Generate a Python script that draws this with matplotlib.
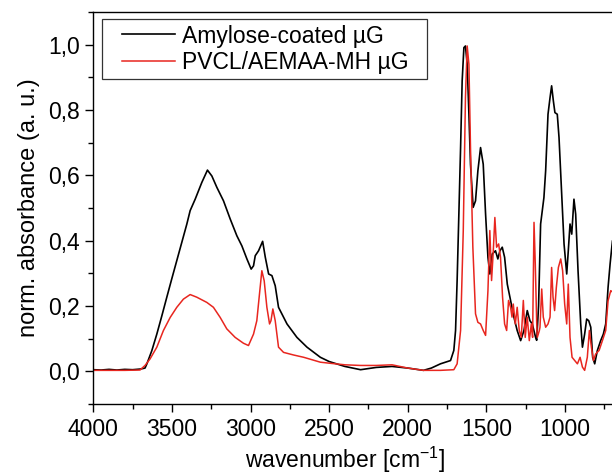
import matplotlib
matplotlib.use("Agg")
import matplotlib.pyplot as plt
from matplotlib.ticker import MultipleLocator, FixedLocator, FixedFormatter
from matplotlib.patches import Rectangle

plt.rcParams['font.family'] = ['Liberation Sans', 'DejaVu Sans']

# ---- data ----
amylose_wn = [4000, 3950, 3900, 3850, 3800, 3750, 3700, 3671, 3660, 3628, 3596, 3564, 3533, 3501,
              3469, 3437, 3405, 3384, 3352, 3310, 3274, 3246, 3214, 3172, 3129, 3087, 3055, 3023,
              2996, 2981, 2970, 2949, 2923, 2906, 2885, 2864, 2843, 2822, 2768, 2705, 2641, 2556,
              2500, 2400, 2300, 2200, 2100, 2000, 1900, 1850, 1792, 1728, 1707, 1696, 1686, 1675,
              1664, 1654, 1643, 1633, 1622, 1611, 1601, 1584, 1569, 1554, 1537, 1520, 1505, 1490,
              1478, 1463, 1442, 1427, 1414, 1399, 1384, 1367, 1346, 1325, 1304, 1282, 1261, 1240,
              1223, 1208, 1187, 1180, 1168, 1155, 1134, 1123, 1108, 1095, 1085, 1074, 1064, 1049,
              1038, 1023, 1006, 989, 979, 968, 957, 943, 932, 917, 900, 889, 875, 862, 849, 836,
              824, 811, 794, 773, 756, 741, 726, 713, 698, 685]
amylose_abs = [0.005, 0.004, 0.006, 0.004, 0.006, 0.005, 0.007, 0.010, 0.022, 0.063, 0.114, 0.170, 0.226, 0.283,
               0.339, 0.395, 0.451, 0.492, 0.527, 0.578, 0.616, 0.598, 0.563, 0.522, 0.466, 0.415, 0.384, 0.344,
               0.313, 0.323, 0.354, 0.369, 0.398, 0.349, 0.298, 0.293, 0.262, 0.196, 0.145, 0.104, 0.074, 0.043,
               0.030, 0.015, 0.005, 0.012, 0.015, 0.010, 0.003, 0.010, 0.023, 0.033, 0.064, 0.125, 0.278, 0.481,
               0.685, 0.889, 0.991, 0.996, 0.940, 0.787, 0.634, 0.502, 0.522, 0.614, 0.685, 0.634, 0.481, 0.349,
               0.298, 0.359, 0.369, 0.344, 0.369, 0.380, 0.349, 0.267, 0.217, 0.166, 0.125, 0.094, 0.125, 0.186,
               0.155, 0.145, 0.104, 0.095, 0.200, 0.451, 0.532, 0.614, 0.787, 0.838, 0.874, 0.828, 0.792, 0.787,
               0.716, 0.563, 0.390, 0.298, 0.369, 0.451, 0.420, 0.527, 0.481, 0.308, 0.145, 0.074, 0.114, 0.160, 0.155, 0.135,
               0.043, 0.023, 0.064, 0.094, 0.114, 0.145, 0.257, 0.329, 0.400, 0.400]

pvcl_wn = [4000, 3900, 3800, 3703, 3671, 3639, 3596, 3554, 3511, 3469, 3427, 3384, 3342, 3278, 3236,
           3193, 3151, 3098, 3045, 3013, 2981, 2960, 2943, 2928, 2913, 2896, 2879, 2870, 2858, 2843,
           2822, 2790, 2726, 2662, 2556, 2500, 2400, 2300, 2200, 2100, 2000, 1900, 1792, 1707, 1686,
           1664, 1647, 1633, 1622, 1611, 1601, 1586, 1569, 1554, 1537, 1520, 1505, 1490, 1478, 1467,
           1456, 1446, 1435, 1422, 1410, 1397, 1384, 1371, 1359, 1346, 1337, 1329, 1316, 1304, 1291,
           1278, 1265, 1253, 1240, 1227, 1214, 1206, 1197, 1189, 1180, 1176, 1163, 1159, 1148, 1138,
           1123, 1108, 1095, 1085, 1076, 1066, 1055, 1042, 1027, 1015, 1002, 989, 979, 968, 955, 938,
           921, 904, 889, 875, 858, 845, 832, 819, 805, 783, 762, 741, 726, 709, 696, 685]
pvcl_abs = [0.003, 0.003, 0.003, 0.004, 0.018, 0.038, 0.074, 0.125, 0.165, 0.196, 0.221, 0.235, 0.227, 0.211, 0.196,
            0.165, 0.130, 0.104, 0.086, 0.079, 0.114, 0.155, 0.237, 0.308, 0.277, 0.196, 0.145, 0.155, 0.191, 0.155,
            0.074, 0.058, 0.050, 0.043, 0.028, 0.025, 0.020, 0.018, 0.018, 0.020, 0.010, 0.003, 0.003, 0.005, 0.023,
            0.125, 0.430, 0.838, 0.996, 0.940, 0.685, 0.380, 0.176, 0.150, 0.145, 0.125, 0.110, 0.247, 0.431, 0.278,
            0.369, 0.471, 0.380, 0.390, 0.349, 0.227, 0.145, 0.125, 0.217, 0.196, 0.166, 0.206, 0.145, 0.196, 0.125,
            0.104, 0.217, 0.104, 0.166, 0.094, 0.145, 0.104, 0.456, 0.329, 0.150, 0.104, 0.125, 0.135, 0.252, 0.166,
            0.135, 0.145, 0.166, 0.318, 0.227, 0.186, 0.257, 0.318, 0.344, 0.308, 0.206, 0.145, 0.267, 0.104, 0.043, 0.033,
            0.023, 0.043, 0.013, 0.003, 0.043, 0.125, 0.074, 0.033, 0.053, 0.064, 0.094, 0.125, 0.216, 0.247, 0.242, 0.245]

series_labels = ["Amylose-coated µG", "PVCL/AEMAA-MH µG"]
x_ticks = [4000, 3500, 3000, 2500, 2000, 1500, 1000]
y_ticks = [0.0, 0.2, 0.4, 0.6, 0.8, 1.0]
y_tick_labels = ["0,0", "0,2", "0,4", "0,6", "0,8", "1,0"]

# ---- figure ----
W, H = 612, 475
fig = plt.figure(figsize=(W / 100, H / 100), dpi=100)
ax = fig.add_axes([93.3 / W, 71 / H, 522 / W, 392 / H])

ax.plot(amylose_wn, amylose_abs, color='black', lw=1.2, label=series_labels[0])
ax.plot(pvcl_wn, pvcl_abs, color='#e8261f', lw=1.1, label=series_labels[1])

ax.set_xlim(4000, 680)
ax.set_ylim(-0.1, 1.1)

ax.xaxis.set_major_locator(FixedLocator(x_ticks))
ax.xaxis.set_minor_locator(MultipleLocator(250))
ax.yaxis.set_major_locator(FixedLocator(y_ticks))
ax.yaxis.set_major_formatter(FixedFormatter(y_tick_labels))
ax.yaxis.set_minor_locator(MultipleLocator(0.1))

ax.tick_params(which='both', direction='out', top=False, right=False, width=1.0,
               labelsize=16.5, colors='black')
ax.tick_params(which='major', length=6)
ax.tick_params(which='minor', length=3.5)
ax.tick_params(axis='x', pad=4)
for s in ax.spines.values():
    s.set_linewidth(1.0)

ax.set_xlabel("wavenumber [cm$^{\\mathregular{-1}}$]", fontsize=16.5)
ax.xaxis.set_label_coords((345 - 93.3) / 522, -(468 - 404) / 392, transform=ax.transAxes)
ax.xaxis.label.set_va('baseline')
ax.set_ylabel("norm. absorbance (a. u.)", fontsize=17, labelpad=6)

leg = ax.legend(loc='upper left', bbox_to_anchor=(122 / W, 1 - 24.5 / H),
                bbox_transform=fig.transFigure, fontsize=16.5, frameon=False,
                handlelength=2.3, handletextpad=0.3, borderpad=0.0, labelspacing=0.15,
                borderaxespad=0.0)
fig.patches.append(Rectangle((102 / W, 1 - 79.3 / H), 324.5 / W, 60 / H, transform=fig.transFigure,
                             fill=False, edgecolor='#333333', lw=0.9, zorder=5))

fig.savefig("out.png", dpi=100)
